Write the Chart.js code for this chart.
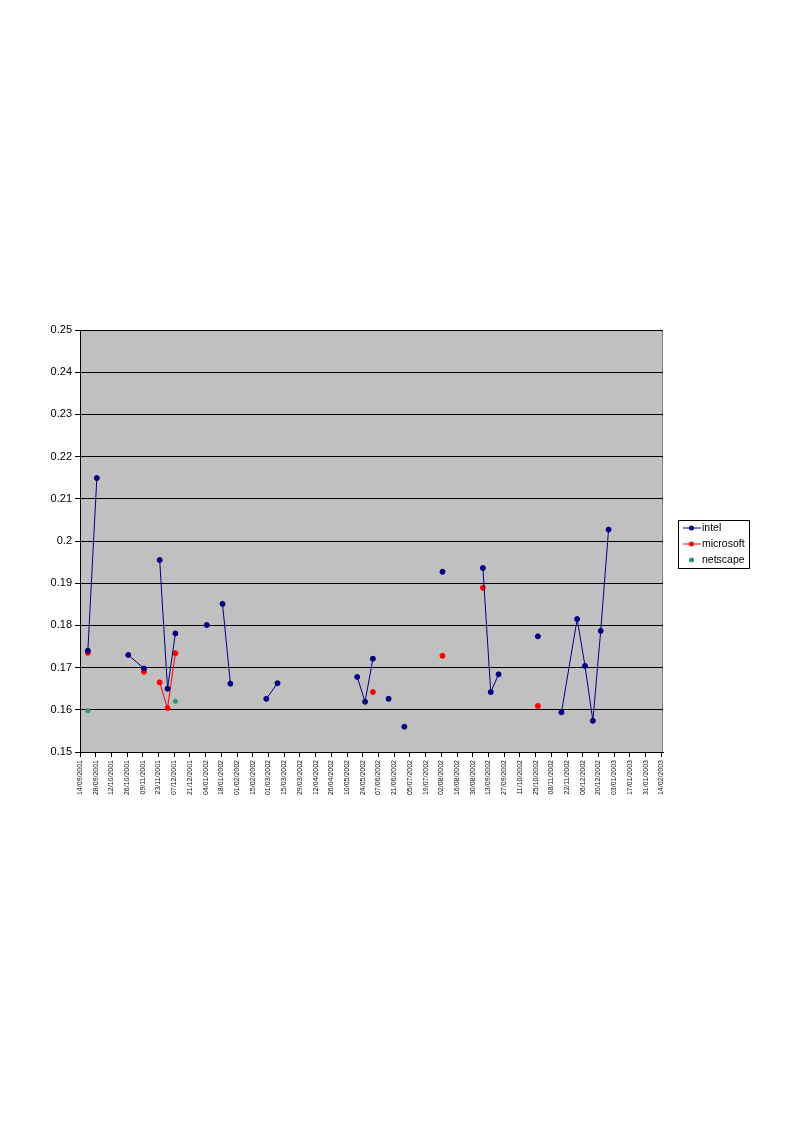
<!DOCTYPE html>
<html>
<head>
<meta charset="utf-8">
<script src="https://cdn.jsdelivr.net/npm/chart.js@4"></script>
<style>
  html, body { margin: 0; padding: 0; background: #fff; }
  #wrap { width: 794px; height: 1123px; }
</style>
</head>
<body>
<div id="wrap"><canvas id="stockchart" width="794" height="1123"></canvas></div>
<script>
// Axis runs in 14 day steps from the first label
const axisStart = '14/09/2001';
const tickLabels = [
    '14/09/2001', '28/09/2001', '12/10/2001', '26/10/2001', '09/11/2001', '23/11/2001',
    '07/12/2001', '21/12/2001', '04/01/2002', '18/01/2002', '01/02/2002', '15/02/2002',
    '01/03/2002', '15/03/2002', '29/03/2002', '12/04/2002', '26/04/2002', '10/05/2002',
    '24/05/2002', '07/06/2002', '21/06/2002', '05/07/2002', '19/07/2002', '02/08/2002',
    '16/08/2002', '30/08/2002', '13/09/2002', '27/09/2002', '11/10/2002', '25/10/2002',
    '08/11/2002', '22/11/2002', '06/12/2002', '20/12/2002', '03/01/2003', '17/01/2003',
    '31/01/2003', '14/02/2003'
];
const yTicks = [0.15, 0.16, 0.17, 0.18, 0.19, 0.2, 0.21, 0.22, 0.23, 0.24, 0.25];

// Observation dates; rows with all nulls break the lines like empty cells do
const dates = [
    '21/09/2001', '29/09/2001', '13/10/2001', '27/10/2001', '10/11/2001', '17/11/2001',
    '24/11/2001', '01/12/2001', '08/12/2001', '22/12/2001', '05/01/2002', '12/01/2002',
    '19/01/2002', '26/01/2002', '09/02/2002', '27/02/2002', '09/03/2002', '14/04/2002',
    '19/05/2002', '26/05/2002', '02/06/2002', '09/06/2002', '16/06/2002', '23/06/2002',
    '30/06/2002', '14/07/2002', '03/08/2002', '18/08/2002', '08/09/2002', '15/09/2002',
    '22/09/2002', '06/10/2002', '27/10/2002', '03/11/2002', '17/11/2002', '01/12/2002',
    '08/12/2002', '15/12/2002', '22/12/2002', '29/12/2002'
];
const intel = [
    0.1740, 0.2149, null, 0.1730, 0.1698, null,
    0.1955, 0.1650, 0.1781, null, 0.1801, null,
    0.1851, 0.1662, null, 0.1626, 0.1663, null,
    0.1678, 0.1619, 0.1721, null, 0.1626, null,
    0.1560, null, 0.1927, null, 0.1936, 0.1642,
    0.1684, null, 0.1774, null, 0.1594, 0.1815,
    0.1704, 0.1574, 0.1787, 0.2027
];
const microsoft = [
    0.1735, null, null, null, 0.1690, null,
    0.1665, 0.1604, 0.1734, null, null, null,
    null, null, null, null, null, null,
    null, null, 0.1642, null, null, null,
    null, null, 0.1728, null, 0.1889, null,
    null, null, 0.1609, null, null, null,
    null, null, null, null
];
const netscape = [
    0.1598, null, null, null, null, null,
    null, null, 0.1620, null, null, null,
    null, null, null, null, null, null,
    null, null, null, null, null, null,
    null, null, null, null, null, null,
    null, null, null, null, null, null,
    null, null, null, null
];

function toDay(s) {
    const p = s.split('/');
    return Date.UTC(+p[2], +p[1] - 1, +p[0]) / 86400000;
}
const day0 = toDay(axisStart);
const dayOf = s => toDay(s) - day0;

function points(values) {
    return dates.map((d, i) => ({ x: dayOf(d), y: values[i] }));
}

// grey plot area with the thin grey frame on top and right
const plotBack = {
    id: 'plotBack',
    beforeDraw(chart) {
        const { ctx, chartArea: a } = chart;
        ctx.save();
        ctx.fillStyle = '#c0c0c0';
        ctx.fillRect(a.left, a.top, a.right - a.left, a.bottom - a.top);
        ctx.strokeStyle = '#808080';
        ctx.lineWidth = 1;
        ctx.beginPath();
        ctx.moveTo(a.left, a.top + 0.5);
        ctx.lineTo(a.right - 0.5, a.top + 0.5);
        ctx.lineTo(a.right - 0.5, a.bottom);
        ctx.stroke();
        ctx.restore();
    }
};

// boxed legend to the right, like the spreadsheet one
const boxLegend = {
    id: 'boxLegend',
    afterDraw(chart) {
        const ctx = chart.ctx;
        ctx.save();
        ctx.fillStyle = '#fff';
        ctx.strokeStyle = '#000';
        ctx.lineWidth = 1;
        ctx.fillRect(678.5, 520.5, 71, 48);
        ctx.strokeRect(678.5, 520.5, 71, 48);
        ctx.font = '10.5px "Liberation Sans", Arial, sans-serif';
        ctx.textBaseline = 'middle';
        chart.data.datasets.forEach((ds, i) => {
            const y = 527.5 + i * 16;
            if (ds.showLine !== false) {
                ctx.strokeStyle = ds.borderColor;
                ctx.beginPath();
                ctx.moveTo(683, y + 0.5);
                ctx.lineTo(701, y + 0.5);
                ctx.stroke();
            }
            ctx.fillStyle = ds.pointBackgroundColor;
            ctx.beginPath();
            ctx.arc(691.5, y + 0.5, 2.5, 0, Math.PI * 2);
            ctx.fill();
            ctx.fillStyle = '#000';
            ctx.fillText(ds.label, 702, y + 1);
        });
        ctx.restore();
    }
};

const ctx = document.getElementById('stockchart').getContext('2d');
new Chart(ctx, {
    type: 'line',
    data: {
        datasets: [{
            label: 'intel',
            data: points(intel),
            borderColor: '#000080',
            backgroundColor: '#000080',
            pointBackgroundColor: '#000080',
            borderWidth: 1
        }, {
            label: 'microsoft',
            data: points(microsoft),
            borderColor: '#ff0000',
            backgroundColor: '#ff0000',
            pointBackgroundColor: '#ff0000',
            borderWidth: 1
        }, {
            label: 'netscape',
            data: points(netscape),
            borderColor: '#339966',
            backgroundColor: '#339966',
            pointBackgroundColor: '#339966',
            showLine: false
        }]
    },
    options: {
        responsive: false,
        animation: false,
        spanGaps: false,
        layout: { padding: { top: 330, right: 131, left: 0, bottom: 0 } },
        elements: {
            line: { tension: 0 },
            point: { radius: 2.5, borderWidth: 0, hoverRadius: 2.5 }
        },
        scales: {
            x: {
                type: 'linear',
                min: 0,
                max: dayOf(tickLabels[tickLabels.length - 1]) + 1.5,
                afterBuildTicks(scale) {
                    scale.ticks = tickLabels.map(l => ({ value: dayOf(l) }));
                },
                afterFit(scale) { scale.height = 371; },
                ticks: {
                    autoSkip: false,
                    minRotation: 90,
                    maxRotation: 90,
                    padding: 3,
                    color: '#111',
                    font: { family: '"Liberation Sans", Arial, sans-serif', size: 7 },
                    callback: (v, i) => tickLabels[i]
                },
                grid: { drawOnChartArea: false, drawTicks: true, tickLength: 5, color: '#000' },
                border: { color: '#000', width: 1 }
            },
            y: {
                min: 0.15,
                max: 0.25,
                afterBuildTicks(scale) {
                    scale.ticks = yTicks.map(v => ({ value: v }));
                },
                afterFit(scale) { scale.width = 80; },
                ticks: {
                    padding: 3,
                    color: '#000',
                    font: { family: '"Liberation Sans", Arial, sans-serif', size: 11 },
                    callback: v => String(Number(v.toFixed(2)))
                },
                grid: { color: '#000', lineWidth: 1, tickLength: 5 },
                border: { color: '#000', width: 1 }
            }
        },
        plugins: {
            legend: { display: false },
            tooltip: { enabled: false }
        }
    },
    plugins: [plotBack, boxLegend]
});
</script>
</body>
</html>
